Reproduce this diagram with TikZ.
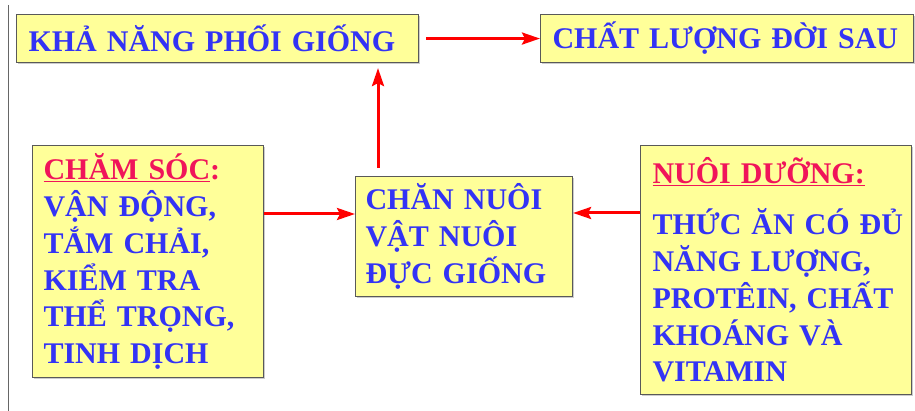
\documentclass[tikz,border=0pt]{standalone}
\usepackage{fontspec}
\setmainfont{Liberation Serif}
\usetikzlibrary{arrows.meta,shadows}

\definecolor{txtblue}{RGB}{51,51,245}
\definecolor{hdred}{RGB}{240,20,90}
\definecolor{boxfill}{RGB}{255,255,153}

\tikzset{
	box/.style={draw=black!65, line width=1.1pt, fill=boxfill, anchor=north west,
		align=left, text=txtblue, font=\bfseries\fontsize{30}{36.8}\selectfont,
		drop shadow={shadow xshift=1pt, shadow yshift=-1pt, opacity=0.4}},
	link/.style={draw=red, line width=3pt, -{Stealth[length=18pt,width=12pt,inset=3pt]}}
}

\begin{document}
\begin{tikzpicture}[x=1pt,y=-1pt]
		\useasboundingbox (0,0) rectangle (915,411);
		\draw[black!60, line width=1.2pt] (8.5,5) -- (8.5,411);
		% top row
		\node[box, inner xsep=12pt, text width=378pt, minimum height=48pt] (phoi) at (16,14) {KHẢ NĂNG PHỐI GIỐNG};
		\node[box, inner xsep=12pt, text width=349pt, minimum height=48pt] (chatluong) at (540,14) {CHẤT LƯỢNG ĐỜI SAU};
		% middle row
		\node[box, inner xsep=11pt, text width=209pt, minimum height=232pt] (chamsoc) at (32,145) {\textcolor{hdred}{\underline{CHĂM SÓC}:}\\VẬN ĐỘNG,\\TẮM CHẢI,\\KIỂM TRA\\THỂ TRỌNG,\\TINH DỊCH};
		\node[box, inner xsep=10pt, text width=197pt, minimum height=120pt] (channuoi) at (355,176) {CHĂN NUÔI\\VẬT NUÔI\\ĐỰC GIỐNG};
		\node[box, inner xsep=12pt, text width=247pt, minimum height=249pt] (nuoiduong) at (640,145) {\textcolor{hdred}{\underline{NUÔI DƯỠNG:}}\\[14pt]THỨC~ĂN~CÓ~ĐỦ\\NĂNG LƯỢNG,\\PROTÊIN, CHẤT\\KHOÁNG VÀ\\VITAMIN};
		\coordinate (upfoot) at (378,168);
		% arrows
		\draw[link] ([xshift=7pt]phoi.east) -- (chatluong.west);
		\draw[link, shorten >=5pt] (upfoot) -- (upfoot |- phoi.south);
		\draw[link] (chamsoc.east |- 0,214) -- (channuoi.west |- 0,214);
		\draw[link] (nuoiduong.west |- 0,213) -- (channuoi.east |- 0,213);
	\end{tikzpicture}
\end{document}
